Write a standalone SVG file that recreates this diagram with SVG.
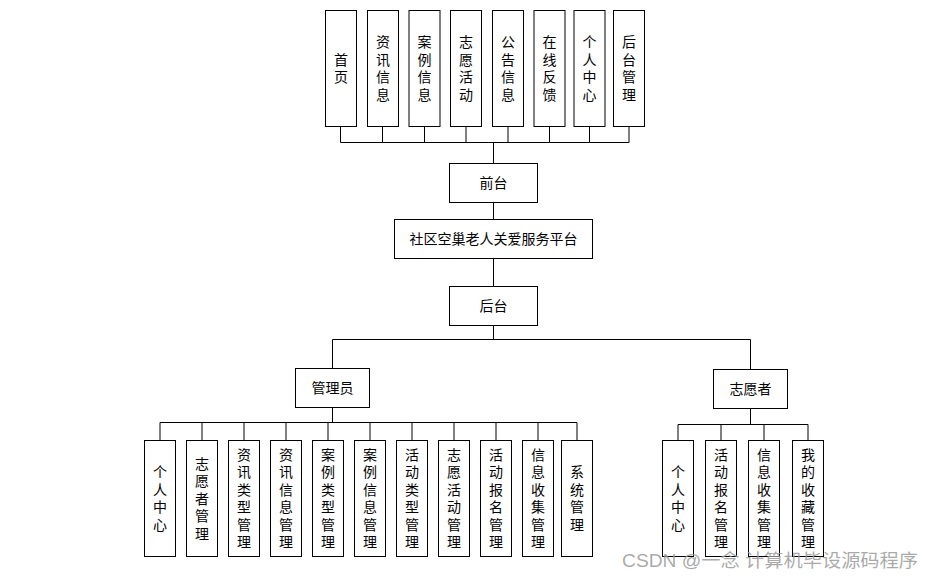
<svg xmlns="http://www.w3.org/2000/svg" width="935" height="578" viewBox="0 0 935 578">
<style>
  .box { fill: #ffffff; stroke: #000000; stroke-width: 1; }
  .lbl { font-family: "Liberation Sans", "Noto Sans CJK SC", sans-serif; font-size: 14px; fill: #000000; text-anchor: middle; }
  .conn { fill: none; stroke: #000000; stroke-width: 1; }
  .wm { font-family: "Liberation Sans", "Noto Sans CJK SC", sans-serif; font-size: 18px; fill: #9a9a9a; fill-opacity: 0.85; }
</style>
<rect width="935" height="578" fill="#ffffff"/>

<g id="connectors" class="conn">
  <path d="M340.5 126.5 V142.5 M382.5 126.5 V142.5 M424.5 126.5 V142.5 M466 126.5 V142.5 M508 126.5 V142.5 M549.5 126.5 V142.5 M589.5 126.5 V142.5 M629 126.5 V142.5 M340.5 142.5 H629"/>
  <path d="M493.5 142.5 V163.5 M493.5 202.5 V219.5 M493.5 258.5 V286.5 M493.5 325.5 V339.5"/>
  <path d="M332.5 339.5 H750.5 M332.5 339.5 V368.5 M750.5 339.5 V369.5"/>
  <path d="M332.5 407.5 V422.5 M160 422.5 H577 M160 422.5 V440.5 M202 422.5 V440.5 M244 422.5 V440.5 M286 422.5 V440.5 M328 422.5 V440.5 M370 422.5 V440.5 M412 422.5 V440.5 M454 422.5 V440.5 M496 422.5 V440.5 M538 422.5 V440.5 M577 422.5 V440.5"/>
  <path d="M750.5 408.5 V424.5 M678 424.5 H808 M678 424.5 V440.5 M721 424.5 V440.5 M764 424.5 V440.5 M808 424.5 V440.5"/>
</g>

<g id="n_home"><rect class="box" x="325.5" y="10.5" width="31" height="116"/>
<text class="lbl"><tspan x="341" y="64.75">首</tspan><tspan x="341" y="82.25">页</tspan></text></g>
<g id="n_news"><rect class="box" x="367.5" y="10.5" width="31" height="116"/>
<text class="lbl"><tspan x="383" y="47.25">资</tspan><tspan x="383" y="64.75">讯</tspan><tspan x="383" y="82.25">信</tspan><tspan x="383" y="99.75">息</tspan></text></g>
<g id="n_case"><rect class="box" x="409" y="10.5" width="31" height="116"/>
<text class="lbl"><tspan x="424.5" y="47.25">案</tspan><tspan x="424.5" y="64.75">例</tspan><tspan x="424.5" y="82.25">信</tspan><tspan x="424.5" y="99.75">息</tspan></text></g>
<g id="n_act"><rect class="box" x="450.5" y="10.5" width="31" height="116"/>
<text class="lbl"><tspan x="466" y="47.25">志</tspan><tspan x="466" y="64.75">愿</tspan><tspan x="466" y="82.25">活</tspan><tspan x="466" y="99.75">动</tspan></text></g>
<g id="n_notice"><rect class="box" x="492.5" y="10.5" width="31" height="116"/>
<text class="lbl"><tspan x="508" y="47.25">公</tspan><tspan x="508" y="64.75">告</tspan><tspan x="508" y="82.25">信</tspan><tspan x="508" y="99.75">息</tspan></text></g>
<g id="n_feedback"><rect class="box" x="534" y="10.5" width="31" height="116"/>
<text class="lbl"><tspan x="549.5" y="47.25">在</tspan><tspan x="549.5" y="64.75">线</tspan><tspan x="549.5" y="82.25">反</tspan><tspan x="549.5" y="99.75">馈</tspan></text></g>
<g id="n_center"><rect class="box" x="574" y="10.5" width="31" height="116"/>
<text class="lbl"><tspan x="589.5" y="47.25">个</tspan><tspan x="589.5" y="64.75">人</tspan><tspan x="589.5" y="82.25">中</tspan><tspan x="589.5" y="99.75">心</tspan></text></g>
<g id="n_backend_link"><rect class="box" x="613.5" y="10.5" width="31" height="116"/>
<text class="lbl"><tspan x="629" y="47.25">后</tspan><tspan x="629" y="64.75">台</tspan><tspan x="629" y="82.25">管</tspan><tspan x="629" y="99.75">理</tspan></text></g>

<g id="n_front"><rect class="box" x="449.5" y="163.5" width="88" height="39"/>
<text class="lbl" x="493.5" y="188">前台</text></g>
<g id="n_platform"><rect class="box" x="394.5" y="219.5" width="198" height="39"/>
<text class="lbl" x="493.5" y="244">社区空巢老人关爱服务平台</text></g>
<g id="n_back"><rect class="box" x="449.5" y="286.5" width="88" height="39"/>
<text class="lbl" x="493.5" y="311">后台</text></g>

<g id="n_admin"><rect class="box" x="295.5" y="368.5" width="74" height="39"/>
<text class="lbl" x="332.5" y="393">管理员</text></g>
<g id="n_vol"><rect class="box" x="713.5" y="369.5" width="74" height="39"/>
<text class="lbl" x="750.5" y="394">志愿者</text></g>

<g id="a_center"><rect class="box" x="144.5" y="440.5" width="31" height="116"/>
<text class="lbl"><tspan x="160" y="477.25">个</tspan><tspan x="160" y="494.75">人</tspan><tspan x="160" y="512.25">中</tspan><tspan x="160" y="529.75">心</tspan></text></g>
<g id="a_volmgr"><rect class="box" x="186.5" y="440.5" width="31" height="116"/>
<text class="lbl"><tspan x="202" y="468.5">志</tspan><tspan x="202" y="486">愿</tspan><tspan x="202" y="503.5">者</tspan><tspan x="202" y="521">管</tspan><tspan x="202" y="538.5">理</tspan></text></g>
<g id="a_newstype"><rect class="box" x="228.5" y="440.5" width="31" height="116"/>
<text class="lbl"><tspan x="244" y="459.75">资</tspan><tspan x="244" y="477.25">讯</tspan><tspan x="244" y="494.75">类</tspan><tspan x="244" y="512.25">型</tspan><tspan x="244" y="529.75">管</tspan><tspan x="244" y="547.25">理</tspan></text></g>
<g id="a_newsinfo"><rect class="box" x="270.5" y="440.5" width="31" height="116"/>
<text class="lbl"><tspan x="286" y="459.75">资</tspan><tspan x="286" y="477.25">讯</tspan><tspan x="286" y="494.75">信</tspan><tspan x="286" y="512.25">息</tspan><tspan x="286" y="529.75">管</tspan><tspan x="286" y="547.25">理</tspan></text></g>
<g id="a_casetype"><rect class="box" x="312.5" y="440.5" width="31" height="116"/>
<text class="lbl"><tspan x="328" y="459.75">案</tspan><tspan x="328" y="477.25">例</tspan><tspan x="328" y="494.75">类</tspan><tspan x="328" y="512.25">型</tspan><tspan x="328" y="529.75">管</tspan><tspan x="328" y="547.25">理</tspan></text></g>
<g id="a_caseinfo"><rect class="box" x="354.5" y="440.5" width="31" height="116"/>
<text class="lbl"><tspan x="370" y="459.75">案</tspan><tspan x="370" y="477.25">例</tspan><tspan x="370" y="494.75">信</tspan><tspan x="370" y="512.25">息</tspan><tspan x="370" y="529.75">管</tspan><tspan x="370" y="547.25">理</tspan></text></g>
<g id="a_acttype"><rect class="box" x="396.5" y="440.5" width="31" height="116"/>
<text class="lbl"><tspan x="412" y="459.75">活</tspan><tspan x="412" y="477.25">动</tspan><tspan x="412" y="494.75">类</tspan><tspan x="412" y="512.25">型</tspan><tspan x="412" y="529.75">管</tspan><tspan x="412" y="547.25">理</tspan></text></g>
<g id="a_volact"><rect class="box" x="438.5" y="440.5" width="31" height="116"/>
<text class="lbl"><tspan x="454" y="459.75">志</tspan><tspan x="454" y="477.25">愿</tspan><tspan x="454" y="494.75">活</tspan><tspan x="454" y="512.25">动</tspan><tspan x="454" y="529.75">管</tspan><tspan x="454" y="547.25">理</tspan></text></g>
<g id="a_signup"><rect class="box" x="480.5" y="440.5" width="31" height="116"/>
<text class="lbl"><tspan x="496" y="459.75">活</tspan><tspan x="496" y="477.25">动</tspan><tspan x="496" y="494.75">报</tspan><tspan x="496" y="512.25">名</tspan><tspan x="496" y="529.75">管</tspan><tspan x="496" y="547.25">理</tspan></text></g>
<g id="a_collect"><rect class="box" x="522.5" y="440.5" width="31" height="116"/>
<text class="lbl"><tspan x="538" y="459.75">信</tspan><tspan x="538" y="477.25">息</tspan><tspan x="538" y="494.75">收</tspan><tspan x="538" y="512.25">集</tspan><tspan x="538" y="529.75">管</tspan><tspan x="538" y="547.25">理</tspan></text></g>
<g id="a_system"><rect class="box" x="561.5" y="440.5" width="31" height="116"/>
<text class="lbl"><tspan x="577" y="477.25">系</tspan><tspan x="577" y="494.75">统</tspan><tspan x="577" y="512.25">管</tspan><tspan x="577" y="529.75">理</tspan></text></g>

<g id="v_center"><rect class="box" x="662.5" y="440.5" width="31" height="116"/>
<text class="lbl"><tspan x="678" y="477.25">个</tspan><tspan x="678" y="494.75">人</tspan><tspan x="678" y="512.25">中</tspan><tspan x="678" y="529.75">心</tspan></text></g>
<g id="v_signup"><rect class="box" x="705.5" y="440.5" width="31" height="116"/>
<text class="lbl"><tspan x="721" y="459.75">活</tspan><tspan x="721" y="477.25">动</tspan><tspan x="721" y="494.75">报</tspan><tspan x="721" y="512.25">名</tspan><tspan x="721" y="529.75">管</tspan><tspan x="721" y="547.25">理</tspan></text></g>
<g id="v_collect"><rect class="box" x="748.5" y="440.5" width="31" height="116"/>
<text class="lbl"><tspan x="764" y="459.75">信</tspan><tspan x="764" y="477.25">息</tspan><tspan x="764" y="494.75">收</tspan><tspan x="764" y="512.25">集</tspan><tspan x="764" y="529.75">管</tspan><tspan x="764" y="547.25">理</tspan></text></g>
<g id="v_fav"><rect class="box" x="792.5" y="440.5" width="31" height="116"/>
<text class="lbl"><tspan x="808" y="459.75">我</tspan><tspan x="808" y="477.25">的</tspan><tspan x="808" y="494.75">收</tspan><tspan x="808" y="512.25">藏</tspan><tspan x="808" y="529.75">管</tspan><tspan x="808" y="547.25">理</tspan></text></g>

<text class="wm" x="622" y="567" textLength="296" lengthAdjust="spacingAndGlyphs">CSDN @一念 计算机毕设源码程序</text>
</svg>
